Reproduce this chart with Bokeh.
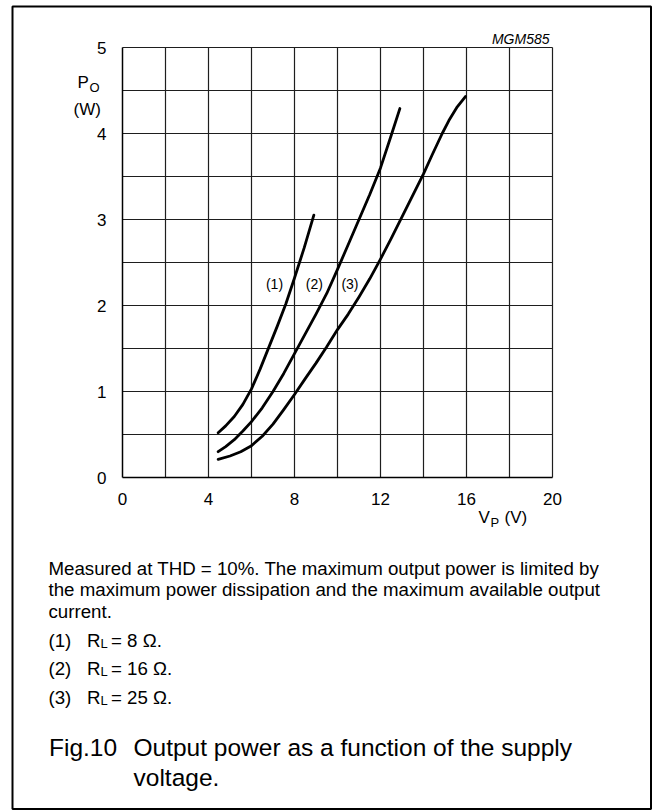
from bokeh.plotting import figure
from bokeh.models import Range1d, FixedTicker, Label, BoxAnnotation
from bokeh.embed import file_html
from bokeh.resources import INLINE

# ---------------- data ----------------
x_ticks = [0, 4, 8, 12, 16, 20]
y_ticks = [0, 1, 2, 3, 4, 5]
x_grid = [2, 4, 6, 8, 10, 12, 14, 16, 18, 20]
y_grid = [0.5, 1, 1.5, 2, 2.5, 3, 3.5, 4, 4.5, 5]

# (1) RL = 8 ohm
c1_v = [4.45, 4.8, 5.2, 5.6, 6.0, 6.4, 6.8, 7.2, 7.6, 8.0, 8.45, 8.9]
c1_p = [0.52, 0.60, 0.71, 0.85, 1.03, 1.26, 1.51, 1.76, 2.02, 2.32, 2.67, 3.05]
# (2) RL = 16 ohm
c2_v = [4.45, 4.8, 5.2, 5.6, 6.0, 6.5, 7.0, 7.5, 8.0, 8.5, 9.0, 9.5, 10.0, 10.5, 11.0,
        11.5, 12.0, 12.5, 12.9]
c2_p = [0.30, 0.36, 0.44, 0.54, 0.65, 0.81, 1.0, 1.21, 1.44, 1.67, 1.90, 2.14, 2.42, 2.71,
        3.0, 3.29, 3.6, 3.98, 4.29]
# (3) RL = 25 ohm
c3_v = [4.45, 5.0, 5.5, 6.0, 6.5, 7.0, 7.5, 8.0, 8.5, 9.0, 9.5, 10.0, 10.5, 11.0, 11.5,
        12.0, 12.5, 13.0, 13.5, 14.0, 14.4, 14.87, 15.18, 15.57, 15.95]
c3_p = [0.21, 0.25, 0.30, 0.37, 0.48, 0.62, 0.79, 0.965, 1.15, 1.33, 1.52, 1.72, 1.90, 2.10,
        2.31, 2.54, 2.78, 3.03, 3.28, 3.53, 3.75, 4.0, 4.15, 4.31, 4.43]

curve_labels = ["(1)", "(2)", "(3)"]
curve_label_v = [7.07, 8.92, 10.58]
curve_label_p = [2.25, 2.25, 2.25]

code_text = "MGM585"
caption_lines = [
    "Measured at THD = 10%. The maximum output power is limited by",
    "the maximum power dissipation and the maximum available output",
    "current.",
]
note_nums = ["(1)", "(2)", "(3)"]
note_vals = ["= 8 \u03a9.", "= 16 \u03a9.", "= 25 \u03a9."]
fig_num = "Fig.10"
fig_title = ["Output power as a function of the supply", "voltage."]

# ---------------- layout constants (pixels of the picture) ----------------
FONT = "Liberation Sans"
W, H = 652, 810
FX0, FY0, SX, SY = 122.0, 477.0, 21.5, 86.0   # origin of the chart and px per unit


def dx(px):
    return (px - FX0) / SX


def dy(py):
    return (FY0 - py) / SY


p = figure(width=W, height=H, output_backend="svg", toolbar_location=None,
           x_range=Range1d(dx(0), dx(W)), y_range=Range1d(dy(H), dy(0)),
           min_border_left=0, min_border_right=0, min_border_top=0, min_border_bottom=0)
p.background_fill_color = "white"
p.border_fill_color = "white"
p.outline_line_color = None
p.xgrid.visible = False
p.ygrid.visible = False

# axes, drawn through the chart origin
for ax in (p.xaxis[0], p.yaxis[0]):
    ax.fixed_location = 0
    ax.major_tick_line_color = None
    ax.minor_tick_line_color = None
    ax.axis_line_color = "black"
    ax.axis_line_width = 1.5
    ax.major_label_text_font = FONT
    ax.major_label_text_font_size = "17px"
    ax.major_label_text_color = "black"
p.xaxis.ticker = FixedTicker(ticks=x_ticks)
p.yaxis.ticker = FixedTicker(ticks=y_ticks)
p.xaxis.bounds = (x_ticks[0], x_ticks[-1])
p.yaxis.bounds = (y_ticks[0], y_ticks[-1])
p.xaxis.major_label_standoff = 9
p.yaxis.major_label_standoff = 10

# grid
p.segment(x0=x_grid, y0=[y_ticks[0]] * len(x_grid), x1=x_grid, y1=[y_ticks[-1]] * len(x_grid),
          line_color="#1e1e1e", line_width=1.2)
p.segment(x0=[x_ticks[0]] * len(y_grid), y0=y_grid, x1=[x_ticks[-1]] * len(y_grid), y1=y_grid,
          line_color="#1e1e1e", line_width=1.2)

# curves
for vs, ps in ((c1_v, c1_p), (c2_v, c2_p), (c3_v, c3_p)):
    p.line(vs, ps, line_color="black", line_width=2.8, line_join="round", line_cap="round")

for t, v, pp in zip(curve_labels, curve_label_v, curve_label_p):
    p.add_layout(Label(x=v, y=pp, text=t, text_font=FONT, text_font_size="14px",
                       text_align="center", text_baseline="middle", text_color="black"))


def lab(text, X, Y, size, align="left", style="normal"):
    p.add_layout(Label(x=dx(X), y=dy(Y), text=text, text_font=FONT,
                       text_font_size=f"{size}px", text_align=align,
                       text_baseline="alphabetic", text_font_style=style,
                       text_color="black"))


# axis titles and figure code
lab("P", 77, 82, 17)
lab("O", 89, 87, 13)
lab("(W)", 73, 108.5, 17)
lab("V", 478, 517, 17)
lab("P", 490, 522, 13)
lab("(V)", 504, 517, 17)
lab(code_text, 549, 38, 14, align="right", style="italic")

# caption
for i, line in enumerate(caption_lines):
    lab(line, 48, 567.5 + 21.5 * i, 18.7)
for i, (n, v) in enumerate(zip(note_nums, note_vals)):
    y = 640 + 28.3 * i
    lab(n, 48, y, 18.7)
    lab("R", 86.5, y, 18.7)
    lab("L", 100, y + 3, 13)
    lab(v, 110.5, y, 18.7)
lab(fig_num, 48.5, 746.7, 24.5)
lab(fig_title[0], 133, 746.7, 24.5)
lab(fig_title[1], 133, 776.7, 24.5)

# outer box
p.add_layout(BoxAnnotation(left=dx(12), right=dx(W - 1.5), top=dy(6), bottom=dy(H - 1.5),
                           fill_alpha=0, line_color="black", line_alpha=1.0, line_width=2))

open("out.html", "w").write(file_html(p, INLINE))
